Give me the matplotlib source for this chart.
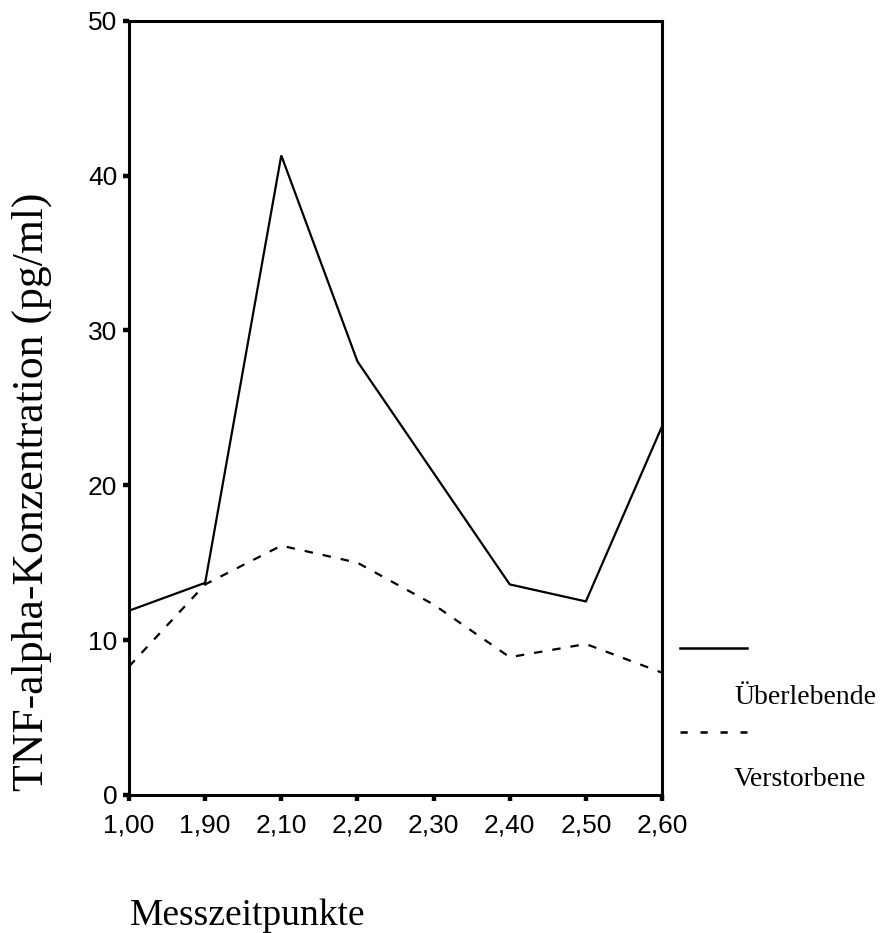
"""TNF-alpha Verlauf: Überlebende vs. Verstorbene"""
import matplotlib
matplotlib.use('Agg')
import matplotlib.pyplot as plt
from matplotlib.lines import Line2D
import numpy as np

plt.rcParams['font.family'] = ['Liberation Sans', 'DejaVu Sans']

# Daten
zeitpunkte = ['1,00', '1,90', '2,10', '2,20', '2,30', '2,40', '2,50', '2,60']
ueberlebende = [11.9, 13.7, 41.3, 28.0, 20.8, 13.6, 12.5, 23.8]
verstorbene = [8.3, 13.6, 16.1, 15.0, 12.3, 8.9, 9.75, 7.9]
y_ticks = [0, 10, 20, 30, 40, 50]

W, H = 882, 933
fig = plt.figure(figsize=(W / 100, H / 100), dpi=100)
ax = fig.add_axes([129 / W, 1 - 795 / H, (662 - 129) / W, (795 - 20.7) / H])

x = np.arange(len(zeitpunkte))
ax.plot(x, ueberlebende, color='black', linewidth=1.6, solid_joinstyle='miter')
ax.plot(x, verstorbene, color='black', linewidth=1.6, dashes=(3.8, 4.5))

ax.set_xlim(0, len(zeitpunkte) - 1)
ax.set_ylim(0, 50)
ax.set_xticks(x)
ax.set_xticklabels(zeitpunkte)
ax.set_yticks(y_ticks)

for sp in ax.spines.values():
    sp.set_linewidth(2.2)
ax.tick_params(direction='out', length=4.5, width=3.2, labelsize=19, color='black')
ax.tick_params(axis='x', pad=9)
ax.tick_params(axis='y', pad=4)

# Achsentitel
fig.text(43 / W, 1 - 492 / H, 'TNF-alpha-Konzentration (pg/ml)', family='Liberation Serif',
         fontsize=31.5, rotation=90, rotation_mode='anchor', ha='center', va='baseline')
fig.text(130 / W, 1 - 925 / H, 'Messzeitpunkte', family='Liberation Serif',
         fontsize=27, ha='left', va='baseline')

# Legende
fig.add_artist(Line2D([680 / W, 747 / W], [1 - 648 / H, 1 - 648 / H],
                      color='black', linewidth=1.8, transform=fig.transFigure))
fig.add_artist(Line2D([680 / W, 747 / W], [1 - 732 / H, 1 - 732 / H],
                      color='black', linewidth=1.8, dashes=(2.9, 5.1),
                      transform=fig.transFigure))
fig.text(734 / W, 1 - 698 / H, 'Überlebende', family='Liberation Serif',
         fontsize=20, ha='left', va='center')
fig.text(734 / W, 1 - 779 / H, 'Verstorbene', family='Liberation Serif',
         fontsize=20, ha='left', va='center')

plt.savefig('out.png', dpi=100)
plt.close()
